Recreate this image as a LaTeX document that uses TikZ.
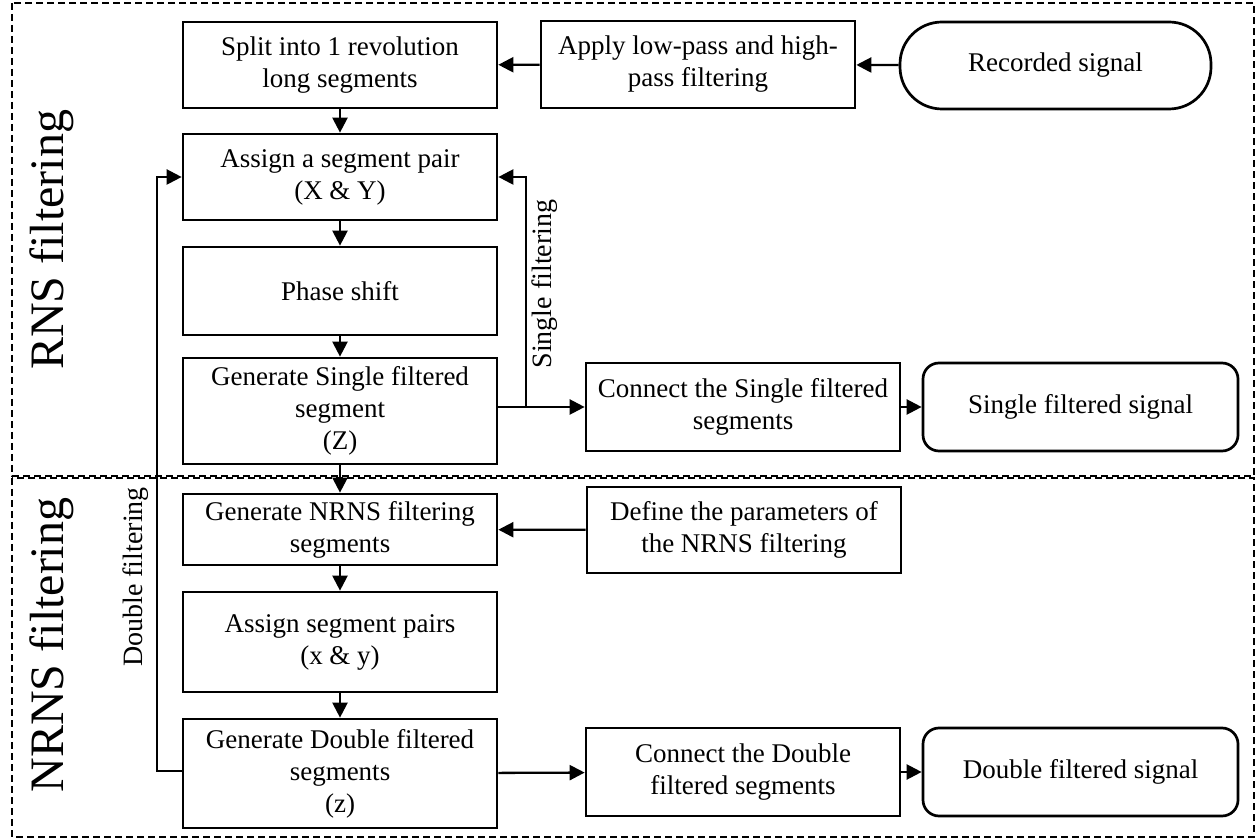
\documentclass[tikz,border=0pt]{standalone}
\usepackage{fontspec}
\setmainfont{Liberation Serif}
\usetikzlibrary{arrows.meta}

\tikzset{
	box/.style={draw, line width=1.35pt, minimum width=157pt, inner sep=1pt, align=center, font=\fontsize{13.5}{16}\selectfont},
	endbox/.style={box, rounded corners=8pt},
	arr/.style={-{Triangle[length=7.5pt,width=7.5pt]}, line width=1.15pt},
	region/.style={draw, dash pattern=on 3.5pt off 2pt, line width=0.9pt},
	looplabel/.style={rotate=90, font=\fontsize{14}{16}\selectfont},
	partlabel/.style={rotate=90, font=\fontsize{24}{28}\selectfont}
}

\begin{document}
\begin{tikzpicture}[x=0.5pt, y=-0.5pt]
	\useasboundingbox (0,0) rectangle (1257,838);
	\draw[region] (12,3) rectangle (1254,476);
	\draw[region] (12,478) rectangle (1254,837);
	
	\node[partlabel] (rns) at (52,240) {RNS filtering};
	\node[partlabel] (nrns) at (52,645) {NRNS filtering};
	
	\node[box, minimum height=43pt] (split) at (340,65) {Split into 1 revolution\\long segments};
	\node[box, minimum height=43.5pt] (apply) at (698,64.5) {Apply low-pass and high-\\pass filtering};
	\node[box, minimum width=155.5pt, minimum height=43.5pt, rounded corners=21pt] (recorded) at (1055.5,65.5) {Recorded signal};
	\node[box, minimum height=43pt] (assign) at (340,177) {Assign a segment pair\\(X \& Y)};
	\node[box, minimum height=44pt] (phase) at (340,291) {Phase shift};
	\node[box, minimum height=53pt] (gensingle) at (340,411) {Generate Single filtered\\segment\\(Z)};
	\node[box, minimum height=44pt] (consingle) at (743,407) {Connect the Single filtered\\segments};
	\node[endbox, minimum width=157.5pt, minimum height=44pt] (single) at (1080.5,407) {Single filtered signal};
	\node[box, minimum height=35.5pt] (gennrns) at (340,529.5) {Generate NRNS filtering\\segments};
	\node[box, minimum height=43pt] (define) at (744,530) {Define the parameters of\\the NRNS filtering};
	\node[box, minimum height=50pt] (pairs) at (340,642) {Assign segment pairs\\(x \& y)};
	\node[box, minimum height=54.5pt] (gendouble) at (340,773.5) {Generate Double filtered\\segments\\(z)};
	\node[box, minimum height=44pt] (condouble) at (743,772) {Connect the Double\\filtered segments};
	\node[endbox, minimum width=157.5pt, minimum height=44pt] (double) at (1080.5,772) {Double filtered signal};
	
	\node[looplabel] (singlelbl) at (545,284) {Single filtering};
	\node[looplabel] (doublelbl) at (136,577) {Double filtering};
	
	\coordinate (sbranch) at (526,407);
	\coordinate (dturn) at (157,771);
	
	\path [arr]
	(recorded) edge (apply)
	(apply) edge (split)
	(split) edge (assign)
	(assign) edge (phase)
	(phase) edge (gensingle)
	(gensingle) edge (gennrns)
	(define) edge (gennrns)
	(gennrns) edge (pairs)
	(pairs) edge (gendouble)
	(gendouble) edge (condouble)
	(consingle) edge (single)
	(condouble) edge (double);
	
	\draw[arr] (gensingle.east |- consingle.west) -- (consingle.west);
	\draw[arr] (sbranch) |- (assign.east);
	\draw[arr] (gendouble.west |- dturn) -- (dturn) |- (assign.west);
\end{tikzpicture}
\end{document}
